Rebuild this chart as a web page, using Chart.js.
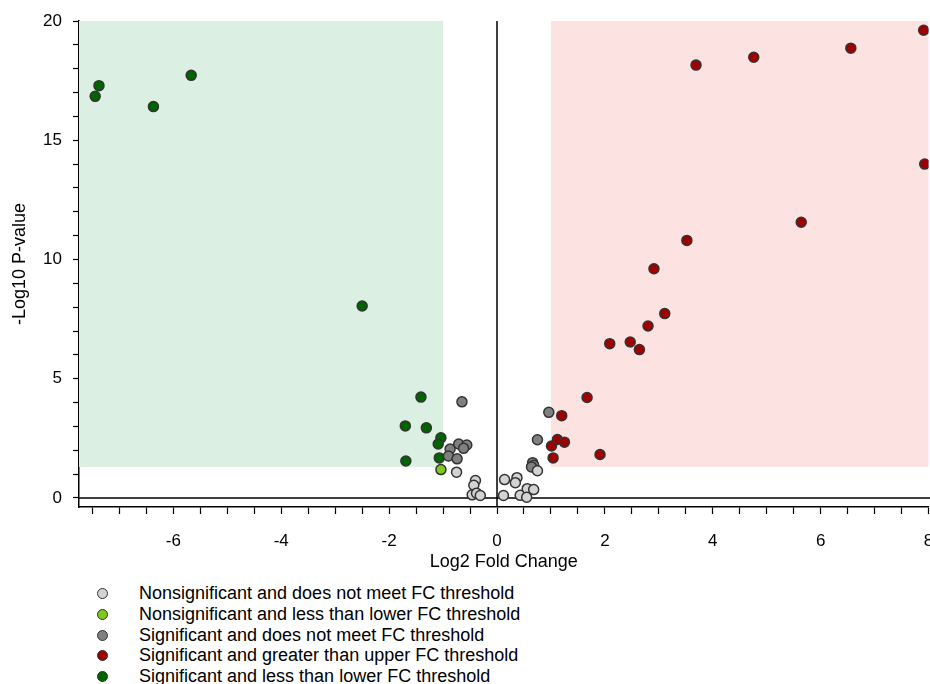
<!DOCTYPE html>
<html>
<head>
<meta charset="utf-8">
<script src="https://cdn.jsdelivr.net/npm/chart.js@4.4.0/dist/chart.umd.min.js"></script>
<style>
  html, body { margin: 0; padding: 0; background: #fff; overflow: hidden; }
  #wrap { position: relative; width: 930px; height: 684px; overflow: hidden; }
  #volcano { position: absolute; left: 0; top: 0; }
  #legend { position: absolute; left: 92px; top: 583px; font-family: "Liberation Sans", Arial, sans-serif; font-size: 18px; color: #000; }
  .item { position: relative; height: 20.75px; line-height: 20.75px; padding-left: 47px; white-space: nowrap; }
  .dot { position: absolute; left: 5px; top: 5px; width: 11px; height: 11px; border-radius: 50%; border: 1.5px solid #333; box-sizing: border-box; }
</style>
</head>
<body>
<div id="wrap">
  <canvas id="volcano" width="935" height="575"></canvas>
  <div id="legend"></div>
</div>
<script>
// legend / groups
const groupNames = [
    'Nonsignificant and does not meet FC threshold',
    'Nonsignificant and less than lower FC threshold',
    'Significant and does not meet FC threshold',
    'Significant and greater than upper FC threshold',
    'Significant and less than lower FC threshold'
];
const groupColors = ['#d3d3d3', '#80c81e', '#808080', '#a00000', '#006400'];

// Nonsignificant, no FC
const nsNoFcX = [-0.75, -0.40, -0.43, -0.46, -0.38, -0.31, 0.14, 0.37, 0.34, 0.12, 0.43, 0.56, 0.68, 0.55, 0.75];
const nsNoFcY = [1.08, 0.73, 0.53, 0.13, 0.20, 0.10, 0.77, 0.85, 0.64, 0.10, 0.11, 0.39, 0.35, 0.03, 1.14];

// Nonsignificant, below lower FC
const nsLowX = [-1.04];
const nsLowY = [1.19];

// Significant, no FC
const sigNoFcX = [-0.65, -0.87, -0.71, -0.56, -0.62, -0.90, -0.74, 0.96, 0.75, 0.66, 0.68, 0.64];
const sigNoFcY = [4.03, 2.05, 2.26, 2.22, 2.08, 1.76, 1.64, 3.59, 2.44, 1.48, 1.37, 1.30];

// Significant, above upper FC
const sigUpX = [1.01, 1.04, 1.12, 1.20, 1.25, 1.67, 1.91, 2.09, 2.47, 2.64, 2.80, 2.91, 3.11, 3.52, 3.69, 4.76, 5.64, 6.56, 7.91, 7.93];
const sigUpY = [2.18, 1.68, 2.45, 3.45, 2.34, 4.21, 1.82, 6.47, 6.54, 6.22, 7.21, 9.61, 7.73, 10.80, 18.15, 18.48, 11.56, 18.86, 19.61, 14.00];

// Significant, below lower FC
const sigLowX = [-7.45, -7.38, -6.37, -5.67, -2.50, -1.41, -1.70, -1.31, -1.69, -1.04, -1.09, -1.07];
const sigLowY = [16.84, 17.29, 16.41, 17.72, 8.05, 4.23, 3.02, 2.94, 1.55, 2.52, 2.26, 1.68];

const xTickLabels = [-6, -4, -2, 0, 2, 4, 6, 8];
const yTickLabels = [0, 5, 10, 15, 20];

// thresholds
const fcLower = -1;
const fcUpper = 1;
const pThreshold = 1.3;

const allX = [nsNoFcX, nsLowX, sigNoFcX, sigUpX, sigLowX];
const allY = [nsNoFcY, nsLowY, sigNoFcY, sigUpY, sigLowY];

const font = 'Liberation Sans, Arial, sans-serif';

const datasets = groupNames.map((name, g) => ({
    label: name,
    data: allX[g].map((x, i) => ({ x: x, y: allY[g][i] })),
    backgroundColor: groupColors[g],
    borderColor: '#333',
    borderWidth: 1.5,
    pointRadius: 5,
    pointHoverRadius: 5
}));

// shaded regions + zero lines
const regionPlugin = {
    id: 'regions',
    beforeDatasetsDraw(chart) {
        const { ctx, chartArea, scales: { x, y } } = chart;
        const top = y.getPixelForValue(y.max);
        const pth = y.getPixelForValue(pThreshold);
        ctx.save();
        ctx.fillStyle = '#dbefe2';
        const xl = x.getPixelForValue(fcLower);
        ctx.fillRect(chartArea.left, top, xl - chartArea.left, pth - top);
        ctx.fillStyle = '#fde2e2';
        const xr = x.getPixelForValue(fcUpper);
        ctx.fillRect(xr, top, chartArea.right - xr, pth - top);

        const x0 = x.getPixelForValue(0);
        const y0 = y.getPixelForValue(0);
        ctx.strokeStyle = '#000';
        ctx.lineWidth = 1.5;
        ctx.beginPath();
        ctx.moveTo(x0, chartArea.top);
        ctx.lineTo(x0, chartArea.bottom);
        ctx.moveTo(chartArea.left, y0);
        ctx.lineTo(chartArea.right + 2, y0);
        ctx.stroke();
        ctx.restore();
    }
};

const xMinor = [];
for (let v = -7.5; v <= 8; v += 0.5) xMinor.push(v);
const yMinor = [];
for (let v = 0; v <= 20; v += 1) yMinor.push(v);

new Chart(document.getElementById('volcano'), {
    type: 'scatter',
    data: { datasets: datasets },
    options: {
        responsive: false,
        animation: false,
        layout: { padding: { top: 21, right: 2, left: 0, bottom: 0 } },
        plugins: {
            legend: { display: false },
            tooltip: { enabled: false }
        },
        scales: {
            x: {
                type: 'linear',
                min: -7.75,
                max: 8,
                afterBuildTicks: s => { s.ticks = xMinor.map(v => ({ value: v })); },
                afterFit: s => { s.height = 68; s.paddingLeft = 0; s.paddingRight = 0; },
                ticks: {
                    autoSkip: false,
                    maxRotation: 0,
                    color: '#000',
                    padding: 17,
                    font: { family: font, size: 17 },
                    callback: v => xTickLabels.includes(v) ? String(v) : ''
                },
                grid: { drawOnChartArea: false, drawTicks: true, tickLength: 7, tickColor: '#000', tickWidth: 1.2 },
                border: { color: '#000', width: 1.5 },
                title: {
                    display: true, text: 'Log2 Fold Change', color: '#000',
                    font: { family: font, size: 18 }, padding: { top: 0, bottom: 2 }
                }
            },
            y: {
                type: 'linear',
                min: -0.38,
                max: 20,
                afterBuildTicks: s => { s.ticks = yMinor.map(v => ({ value: v })); },
                afterFit: s => { s.width = 79; s.paddingTop = 0; s.paddingBottom = 0; },
                ticks: {
                    autoSkip: false,
                    color: '#000',
                    padding: 11,
                    font: { family: font, size: 17 },
                    callback: v => yTickLabels.includes(v) ? String(v) : ''
                },
                grid: { drawOnChartArea: false, drawTicks: true, tickLength: 6, tickColor: '#000', tickWidth: 1.2 },
                border: { color: '#000', width: 1.5 },
                title: {
                    display: true, text: '-Log10 P-value', color: '#000',
                    font: { family: font, size: 18 }, padding: { top: 9, bottom: 0 }
                }
            }
        }
    },
    plugins: [regionPlugin]
});

// html legend
const legendEl = document.getElementById('legend');
groupNames.forEach((name, g) => {
    const item = document.createElement('div');
    item.className = 'item';
    const dot = document.createElement('span');
    dot.className = 'dot';
    dot.style.background = groupColors[g];
    item.appendChild(dot);
    item.appendChild(document.createTextNode(name));
    legendEl.appendChild(item);
});
</script>
</body>
</html>
